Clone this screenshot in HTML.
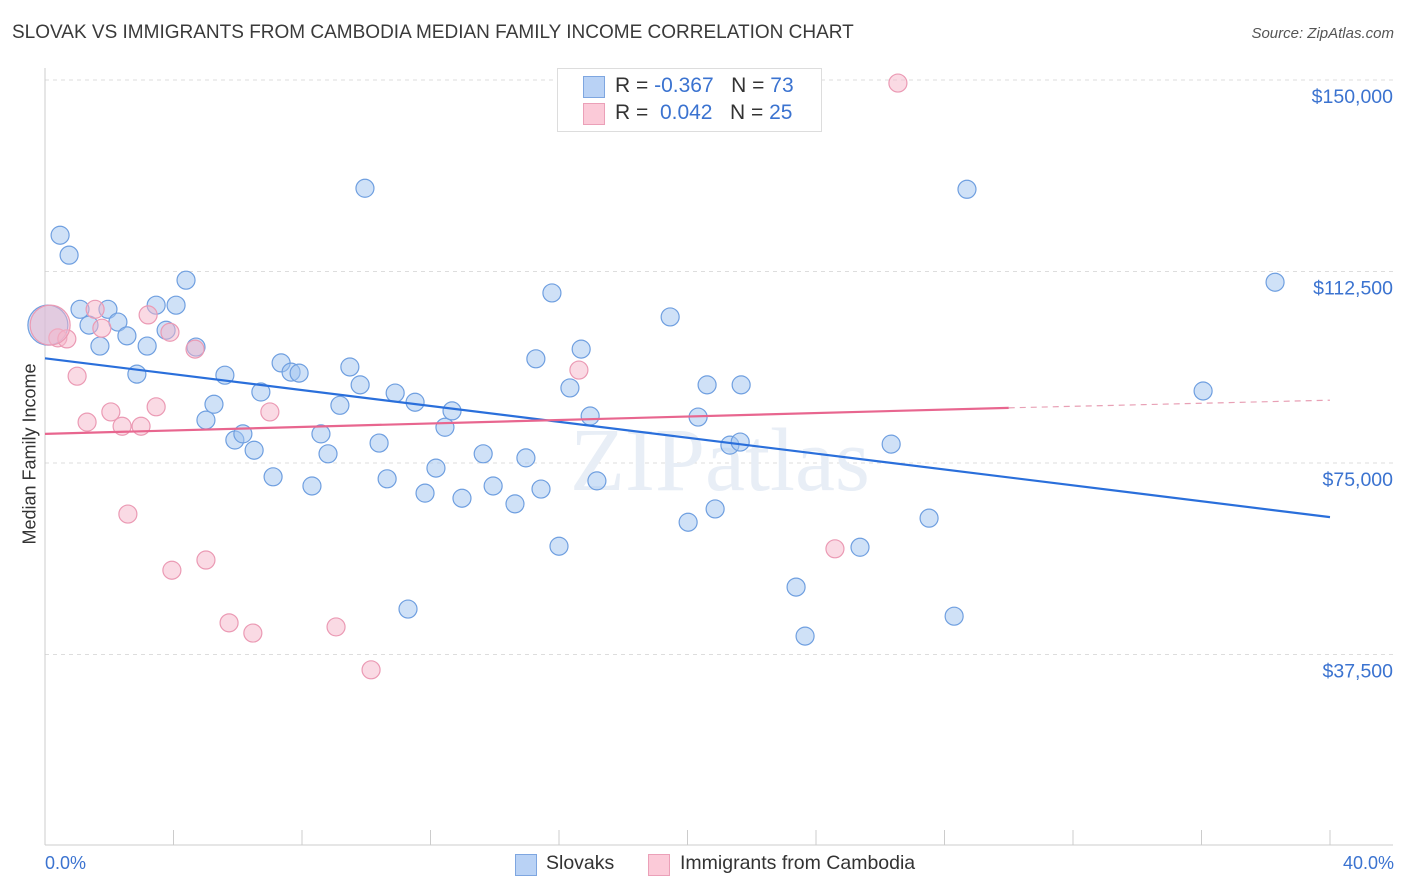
<!DOCTYPE html>
<html><head><meta charset="utf-8">
<style>
body{margin:0;background:#fff;font-family:"Liberation Sans",sans-serif;}
#wrap{position:relative;width:1406px;height:892px;overflow:hidden;}
.t{position:absolute;white-space:nowrap;}
</style></head>
<body>
<div id="wrap">
<div class="t" style="left:12px;top:22px;font-size:19px;color:#3a3a3a;">SLOVAK VS IMMIGRANTS FROM CAMBODIA MEDIAN FAMILY INCOME CORRELATION CHART</div>
<div class="t" style="right:12px;top:25px;font-size:15px;color:#555;font-style:italic;">Source: ZipAtlas.com</div>
<svg id="svg" width="1406" height="892" style="position:absolute;left:0;top:0"></svg>
</div>
<script>
const slovakX=[0.47,0.75,1.09,1.37,1.71,1.96,2.27,2.55,2.86,3.18,3.46,3.77,4.08,4.39,4.70,5.01,5.26,5.60,5.91,6.16,6.51,6.72,7.10,7.35,7.66,7.91,8.31,8.59,8.81,9.18,9.49,9.81,9.96,10.40,10.65,10.90,11.30,11.52,11.83,12.17,12.45,12.67,12.98,13.64,13.95,14.63,14.97,15.28,15.44,15.78,16.00,16.34,16.69,16.97,17.18,19.46,20.02,20.33,20.61,20.86,21.32,21.64,21.67,23.38,23.66,25.37,26.34,27.52,28.30,28.70,36.05,38.29,0.09];
const slovakY=[119.6,115.7,105.1,102.0,97.9,105.1,102.6,99.9,92.4,97.9,105.9,101.0,105.9,110.8,97.7,83.4,86.5,92.2,79.5,80.7,77.5,88.9,72.3,94.6,92.8,92.6,70.5,80.7,76.8,86.3,93.8,90.3,128.8,78.9,71.9,88.7,46.4,86.9,69.1,74.0,82.0,85.2,68.1,76.8,70.5,67.0,76.0,95.4,69.9,108.3,58.7,89.7,97.3,84.2,71.5,103.6,63.4,84.0,90.3,66.0,78.5,79.1,90.3,50.7,41.1,58.5,78.7,64.2,45.0,128.6,89.1,110.4,102.0];
const cambX=[0.40,0.68,1.00,1.31,1.56,1.77,2.05,2.40,2.58,2.99,3.21,3.46,3.89,3.95,4.67,5.01,5.73,6.47,7.00,9.06,10.15,16.62,24.59,26.55,0.16];
const cambY=[99.5,99.3,92.0,83.0,105.1,101.4,85.0,82.2,65.0,82.2,104.0,86.0,100.6,54.0,97.3,56.0,43.7,41.7,85.0,42.9,34.5,93.2,58.2,149.4,102.0];
const slovakTrend=[95.5,64.4];
const cambTrend=[80.7,85.8,87.3];
const yTicks=[37.5,75,112.5,150];
const yTickLabels=["$37,500","$75,000","$112,500","$150,000"];
const xTicks=[0,4,8,12,16,20,24,28,32,36,40];

const NS="http://www.w3.org/2000/svg";
const svg=document.getElementById('svg');
const X=v=>45+v/40*1285;
const Y=v=>846-v/37.5*191.5;
function mk(tag,attrs){const e=document.createElementNS(NS,tag);for(const k in attrs)e.setAttribute(k,attrs[k]);svg.appendChild(e);return e;}

yTicks.forEach((t,i)=>{
  const g=mk('line',{x1:45,x2:1393,y1:Y(t),y2:Y(t),stroke:'#ddd','stroke-dasharray':'4,4'});
  
  
  const tx=mk('text',{x:1393,y:Y(t)+23,'text-anchor':'end','font-size':19.5,fill:'#3b73d0','font-family':'Liberation Sans, sans-serif'});
  tx.textContent=yTickLabels[i];
  
  
});
const ax=mk('line',{x1:45,x2:1393,y1:845,y2:845,stroke:'#ccc'});


const ay=mk('line',{x1:45,x2:45,y1:68,y2:845,stroke:'#ccc'});


xTicks.forEach(t=>{
  const l=mk('line',{x1:X(t),x2:X(t),y1:830,y2:845,stroke:'#ccc'});
  
  
});
const w=mk('text',{x:720,y:490,'text-anchor':'middle','font-size':90,fill:'#e8eef6','font-family':'Liberation Serif, serif'});
w.textContent='ZIPatlas';



function dots(xs,ys,fill,stroke,name){
  xs.forEach((x,i)=>{
    const big=(i===xs.length-1);
    const c=mk('circle',{cx:X(x),cy:Y(ys[i]),r:big?20:9,fill:fill,stroke:stroke,'stroke-width':1.2});
    
    
  });
}
dots(slovakX,slovakY,'rgba(160,196,240,0.5)','#6f9fe0','slovak-point');
dots(cambX,cambY,'rgba(246,182,202,0.5)','#eb9ab4','cambodia-point');

const bl=mk('line',{x1:X(0),y1:Y(slovakTrend[0]),x2:X(40),y2:Y(slovakTrend[1]),stroke:'#2a6fdb','stroke-width':2.2});


const pl=mk('line',{x1:X(0),y1:Y(cambTrend[0]),x2:X(30),y2:Y(cambTrend[1]),stroke:'#e8668f','stroke-width':2.2});


const pd=mk('line',{x1:X(30),y1:Y(cambTrend[1]),x2:X(40),y2:Y(cambTrend[2]),stroke:'#e8a0b5','stroke-width':1.2,'stroke-dasharray':'6,5'});


</script>
<div class="t" style="left:-60px;top:444px;width:180px;text-align:center;font-size:18px;color:#333;transform:rotate(-90deg);">Median Family Income</div>
<div class="t" style="left:45px;top:853px;font-size:18px;color:#3b73d0;">0.0%</div>
<div class="t" style="right:12px;top:853px;font-size:18px;color:#3b73d0;">40.0%</div>
<div style="position:absolute;left:557px;top:68px;width:263px;height:62px;border:1px solid #ddd;background:#fff;font-size:21px;">
  <div style="position:absolute;left:25px;top:7px;width:20px;height:20px;background:#b9d2f5;border:1px solid #7ea6e0;"></div>
  <div class="t" style="left:57px;top:5px;color:#333;">R = <span style="color:#3b73d0">-0.367</span>&nbsp;&nbsp;&nbsp;N = <span style="color:#3b73d0">73</span></div>
  <div style="position:absolute;left:25px;top:34px;width:20px;height:20px;background:#fbcad8;border:1px solid #eba0b8;"></div>
  <div class="t" style="left:57px;top:32px;color:#333;">R = &nbsp;<span style="color:#3b73d0">0.042</span>&nbsp;&nbsp;&nbsp;N = <span style="color:#3b73d0">25</span></div>
</div>
<div style="position:absolute;left:515px;top:854px;width:20px;height:20px;background:#b9d2f5;border:1px solid #7ea6e0;"></div>
<div class="t" style="left:546px;top:852px;font-size:19.5px;color:#333;">Slovaks</div>
<div style="position:absolute;left:648px;top:854px;width:20px;height:20px;background:#fbcad8;border:1px solid #eba0b8;"></div>
<div class="t" style="left:680px;top:852px;font-size:19.5px;color:#333;">Immigrants from Cambodia</div>
</body></html>
